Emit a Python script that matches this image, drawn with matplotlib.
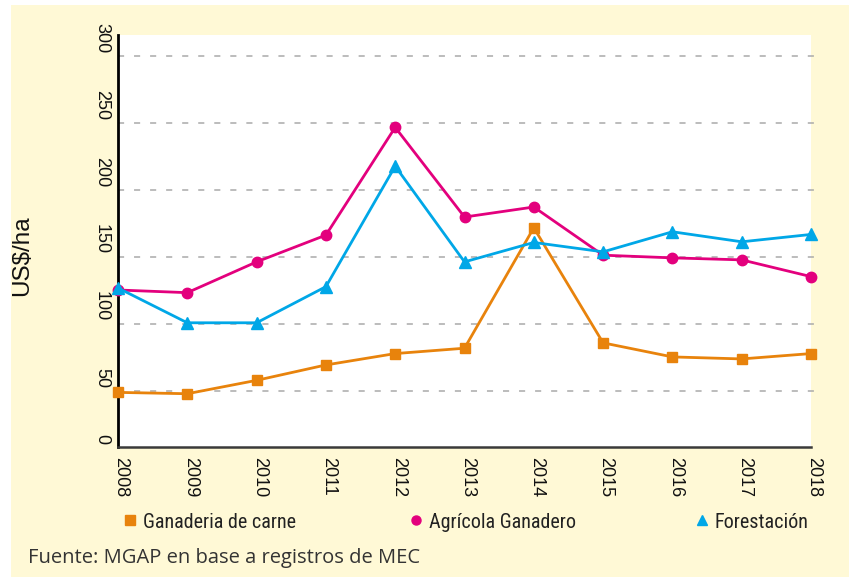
import matplotlib
matplotlib.use("Agg")
import matplotlib.pyplot as plt
import matplotlib.transforms as mt
from matplotlib.lines import Line2D
from matplotlib.patches import Rectangle

years = [2008, 2009, 2010, 2011, 2012, 2013, 2014, 2015, 2016, 2017, 2018]
ganaderia = [49, 48, 58, 69.5, 78, 82, 172, 86, 75.5, 74, 78]
agricola = [125.5, 123.5, 146.5, 166.5, 247, 180, 187.5, 151.5, 149.5, 148, 135.5]
forestacion = [127, 101, 101, 128, 218, 146.5, 161, 154, 169, 161.5, 167]

y_ticks = [0, 50, 100, 150, 200, 250, 300]
y_labels = ["0", "50", "100", "150", "200", "250", "300"]

series_names = ["Ganaderia de carne", "Agrícola Ganadero", "Forestación"]
colors = ["#E8830C", "#E3007D", "#00A7E7"]
markers = ["s", "o", "^"]

narrow = ["Liberation Sans Narrow", "Roboto Condensed", "DejaVu Sans"]
plt.rcParams["font.family"] = ["Liberation Sans", "DejaVu Sans"]

fig = plt.figure(figsize=(8.49, 5.77), dpi=100)
fig.patches.append(Rectangle((11 / 849, 0), 1, 572 / 577, transform=fig.transFigure,
                             facecolor="#FFF9D6", edgecolor="none", zorder=-10))

ax = fig.add_axes([118 / 849, 130 / 577, 693 / 849, 412 / 577])
ax.set_facecolor("white")

y_lo, y_hi = 8.2, 316
ax.set_xlim(2008, 2018)
ax.set_ylim(y_lo, y_hi)

for v in y_ticks[1:]:
    ax.axhline(v, color="#aaaaaa", lw=1.1, dashes=(4, 6.5), zorder=1, xmax=1.005, clip_on=False)

for vals, c, m in zip([ganaderia, agricola, forestacion], colors, markers):
    ms = 8 if m == "^" else 7.5
    ax.plot(years, vals, color=c, lw=2, marker=m, markersize=ms, zorder=3, clip_on=False)

for s in ["top", "right"]:
    ax.spines[s].set_visible(False)
ax.spines["left"].set_color("black")
ax.spines["left"].set_linewidth(2)
ax.spines["bottom"].set_color("#3a3a3a")
ax.spines["bottom"].set_linewidth(1.8)

ax.set_yticks([])
ytrans = mt.blended_transform_factory(ax.transAxes, ax.transData) + \
    mt.ScaledTranslation(-8 / 100, 3 / 100, fig.dpi_scale_trans)
for v, lab in zip(y_ticks, y_labels):
    ax.text(0, max(v, y_lo), lab, transform=ytrans, rotation=-90, ha="right", va="bottom",
            fontsize=13, color="#111111")

ax.set_xticks(years)
ax.set_xticklabels([str(y) for y in years], rotation=-90, fontsize=13, color="#111111")
ax.tick_params(axis="x", length=0, pad=7)
for lab in ax.get_xticklabels():
    lab.set_transform(lab.get_transform() + mt.ScaledTranslation(3 / 100, 0, fig.dpi_scale_trans))

fig.text(22 / 849, 1 - 256 / 577, "US$/ha", rotation=90, ha="center", va="center",
         fontsize=17.5, color="#111111")

leg_x = [130, 416, 702]
leg_y = 1 - 520 / 577
for x, name, c, m in zip(leg_x, series_names, colors, markers):
    ms = {"s": 7.5, "o": 6.5, "^": 6.5}[m]
    fig.add_artist(Line2D([x / 849], [leg_y], transform=fig.transFigure, marker=m,
                          markersize=ms, color=c, linestyle="none"))
    fig.text((x + 13) / 849, leg_y, name, ha="left", va="center_baseline",
             fontsize=14.5, family=narrow, color="#222222")

fig.text(28 / 849, 1 - 555 / 577, "Fuente: MGAP en base a registros de MEC", ha="left",
         va="center_baseline", fontsize=14.5, family=["Open Sans", "DejaVu Sans"],
         color="#333333")

fig.savefig("out.png", dpi=100)
